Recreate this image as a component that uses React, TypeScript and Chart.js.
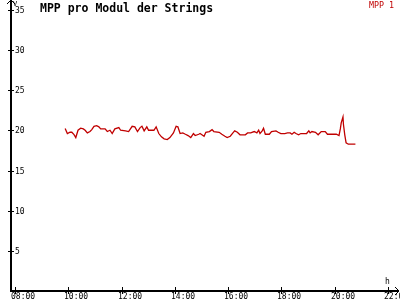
import React, { useEffect, useRef } from "react";
import { Chart, registerables } from "chart.js";

Chart.register(...registerables);

const times = [
  "09:53", "09:58", "10:04", "10:08", "10:13", "10:17", "10:22", "10:28", "10:34", "10:38",
  "10:43", "10:49", "10:53", "10:58", "11:04", "11:09", "11:13", "11:23", "11:28", "11:34",
  "11:39", "11:45", "11:54", "11:58", "12:09", "12:16", "12:24", "12:30", "12:36", "12:42",
  "12:46", "12:51", "12:57", "13:01", "13:13", "13:18", "13:24", "13:30", "13:36", "13:43",
  "13:49", "13:57", "14:03", "14:07", "14:12", "14:18", "14:24", "14:30", "14:36", "14:42",
  "14:46", "14:54", "14:57", "15:06", "15:10", "15:18", "15:24", "15:28", "15:40", "15:46",
  "15:53", "15:58", "16:05", "16:11", "16:15", "16:21", "16:27", "16:39", "16:44", "16:51",
  "16:59", "17:05", "17:09", "17:12", "17:17", "17:20", "17:24", "17:33", "17:38", "17:48",
  "17:53", "17:59", "18:08", "18:14", "18:20", "18:24", "18:29", "18:33", "18:39", "18:44",
  "18:57", "19:02", "19:05", "19:09", "19:17", "19:23", "19:30", "19:39", "19:44", "20:04",
  "20:10", "20:13", "20:15", "20:19", "20:20", "20:23", "20:26", "20:31", "20:47",
];

const mpp1 = [
  20.23, 19.61, 19.77, 19.77, 19.48, 19.11, 20.02, 20.27, 20.19, 20.02,
  19.69, 19.86, 20.1, 20.51, 20.6, 20.44, 20.19, 20.19, 19.86, 20.02,
  19.61, 20.19, 20.35, 20.02, 19.94, 19.86, 20.51, 20.44, 19.86, 20.35,
  20.51, 19.94, 20.44, 20.02, 20.02, 20.44, 19.61, 19.2, 18.95, 18.86,
  19.11, 19.69, 20.51, 20.44, 19.61, 19.69, 19.52, 19.36, 19.11, 19.61,
  19.36, 19.52, 19.61, 19.27, 19.77, 19.86, 20.1, 19.86, 19.77, 19.52,
  19.27, 19.11, 19.27, 19.69, 19.94, 19.77, 19.45, 19.45, 19.69, 19.69,
  19.86, 19.69, 20.02, 19.61, 19.94, 20.27, 19.52, 19.52, 19.86, 19.94,
  19.77, 19.61, 19.61, 19.69, 19.69, 19.52, 19.77, 19.61, 19.45, 19.61,
  19.61, 19.94, 19.69, 19.86, 19.77, 19.45, 19.86, 19.86, 19.52, 19.52,
  19.36, 20.19, 20.94, 21.68, 20.76, 19.45, 18.45, 18.28, 18.28,
];

const yTicks = [5, 10, 15, 20, 25, 30, 35];
const xTicks = [8, 10, 12, 14, 16, 18, 20, 22];
const xTickLabels = ["08:00", "10:00", "12:00", "14:00", "16:00", "18:00", "20:00", "22:00"];

const TITLE = "MPP pro Modul der Strings";
const SERIES = "MPP 1";
const RED = "#c00000";
const MONO = '"DejaVu Sans Mono", "Liberation Mono", monospace';

function toHours(t: string): number {
  const [h, m] = t.split(":").map(Number);
  return h + m / 60;
}

const axesPlugin = {
  id: "oldAxes",
  beforeDatasetsDraw(chart: any) {
    const ctx = chart.ctx;
    const xs = chart.scales.x;
    const ys = chart.scales.y;
    const left = chart.chartArea.left;
    const right = chart.chartArea.right;
    const top = chart.chartArea.top;
    const y0 = Math.round(ys.getPixelForValue(0));
    ctx.save();
    ctx.fillStyle = "#000";
    ctx.strokeStyle = "#000";
    // y axis
    ctx.fillRect(left - 1, top, 2, y0 - top + 1);
    // x axis
    ctx.fillRect(left - 1, y0 - 1, right - left + 1, 2);
    // arrows
    ctx.lineWidth = 1;
    ctx.beginPath();
    ctx.moveTo(left - 4, top + 4);
    ctx.lineTo(left, top);
    ctx.lineTo(left + 4, top + 4);
    ctx.moveTo(right - 4, y0 - 4);
    ctx.lineTo(right, y0);
    ctx.lineTo(right - 4, y0 + 4);
    ctx.stroke();
    // y ticks
    ctx.font = "8px " + MONO;
    ctx.textAlign = "left";
    ctx.textBaseline = "middle";
    yTicks.forEach((v) => {
      const py = Math.round(ys.getPixelForValue(v));
      ctx.fillRect(left - 3, py, 6, 1);
      ctx.fillText(String(v), left + 4, py + 0.5);
    });
    // x ticks
    ctx.textBaseline = "top";
    xTicks.forEach((v, i) => {
      const px = Math.round(xs.getPixelForValue(v));
      ctx.fillRect(px, y0 - 4, 1, 7);
      ctx.fillText(xTickLabels[i], px - 4, y0 + 2);
    });
    // axis unit labels
    ctx.textBaseline = "alphabetic";
    ctx.fillText("h", right - 14, y0 - 7);
    ctx.font = "7px " + MONO;
    ctx.fillText("V", left + 2, top + 6);
    ctx.restore();
  },
  afterDraw(chart: any) {
    const ctx = chart.ctx;
    ctx.save();
    ctx.textBaseline = "alphabetic";
    ctx.fillStyle = "#000";
    ctx.font = "bold 11.5px " + MONO;
    ctx.textAlign = "left";
    ctx.fillText(TITLE, 40, 11.5);
    ctx.fillStyle = RED;
    ctx.font = "8.3px " + MONO;
    ctx.textAlign = "right";
    ctx.fillText(SERIES, 394, 7.5);
    ctx.restore();
  },
};

export default function App() {
  const ref = useRef<HTMLCanvasElement | null>(null);
  useEffect(() => {
    if (!ref.current) return;
    const chart = new Chart(ref.current, {
      type: "line",
      data: {
        datasets: [
          {
            label: SERIES,
            data: times.map((t, i) => ({ x: toHours(t), y: mpp1[i] })),
            borderColor: RED,
            borderWidth: 1.3,
            pointRadius: 0,
            tension: 0,
            fill: false,
          },
        ],
      },
      options: {
        responsive: false,
        animation: false,
        devicePixelRatio: 1,
        layout: { padding: { left: 11, right: 1, top: 0, bottom: 9 } },
        plugins: { legend: { display: false }, tooltip: { enabled: false }, title: { display: false } },
        scales: {
          x: { type: "linear", min: 7.85, max: 22.42, display: false },
          y: { type: "linear", min: 0, max: 36.24, display: false },
        },
      },
      plugins: [axesPlugin],
    });
    return () => chart.destroy();
  }, []);
  return (
    <div style={{ position: "fixed", left: 0, top: 0, width: 400, height: 300, background: "#fff" }}>
      <canvas ref={ref} width={400} height={300} style={{ display: "block" }} />
    </div>
  );
}
